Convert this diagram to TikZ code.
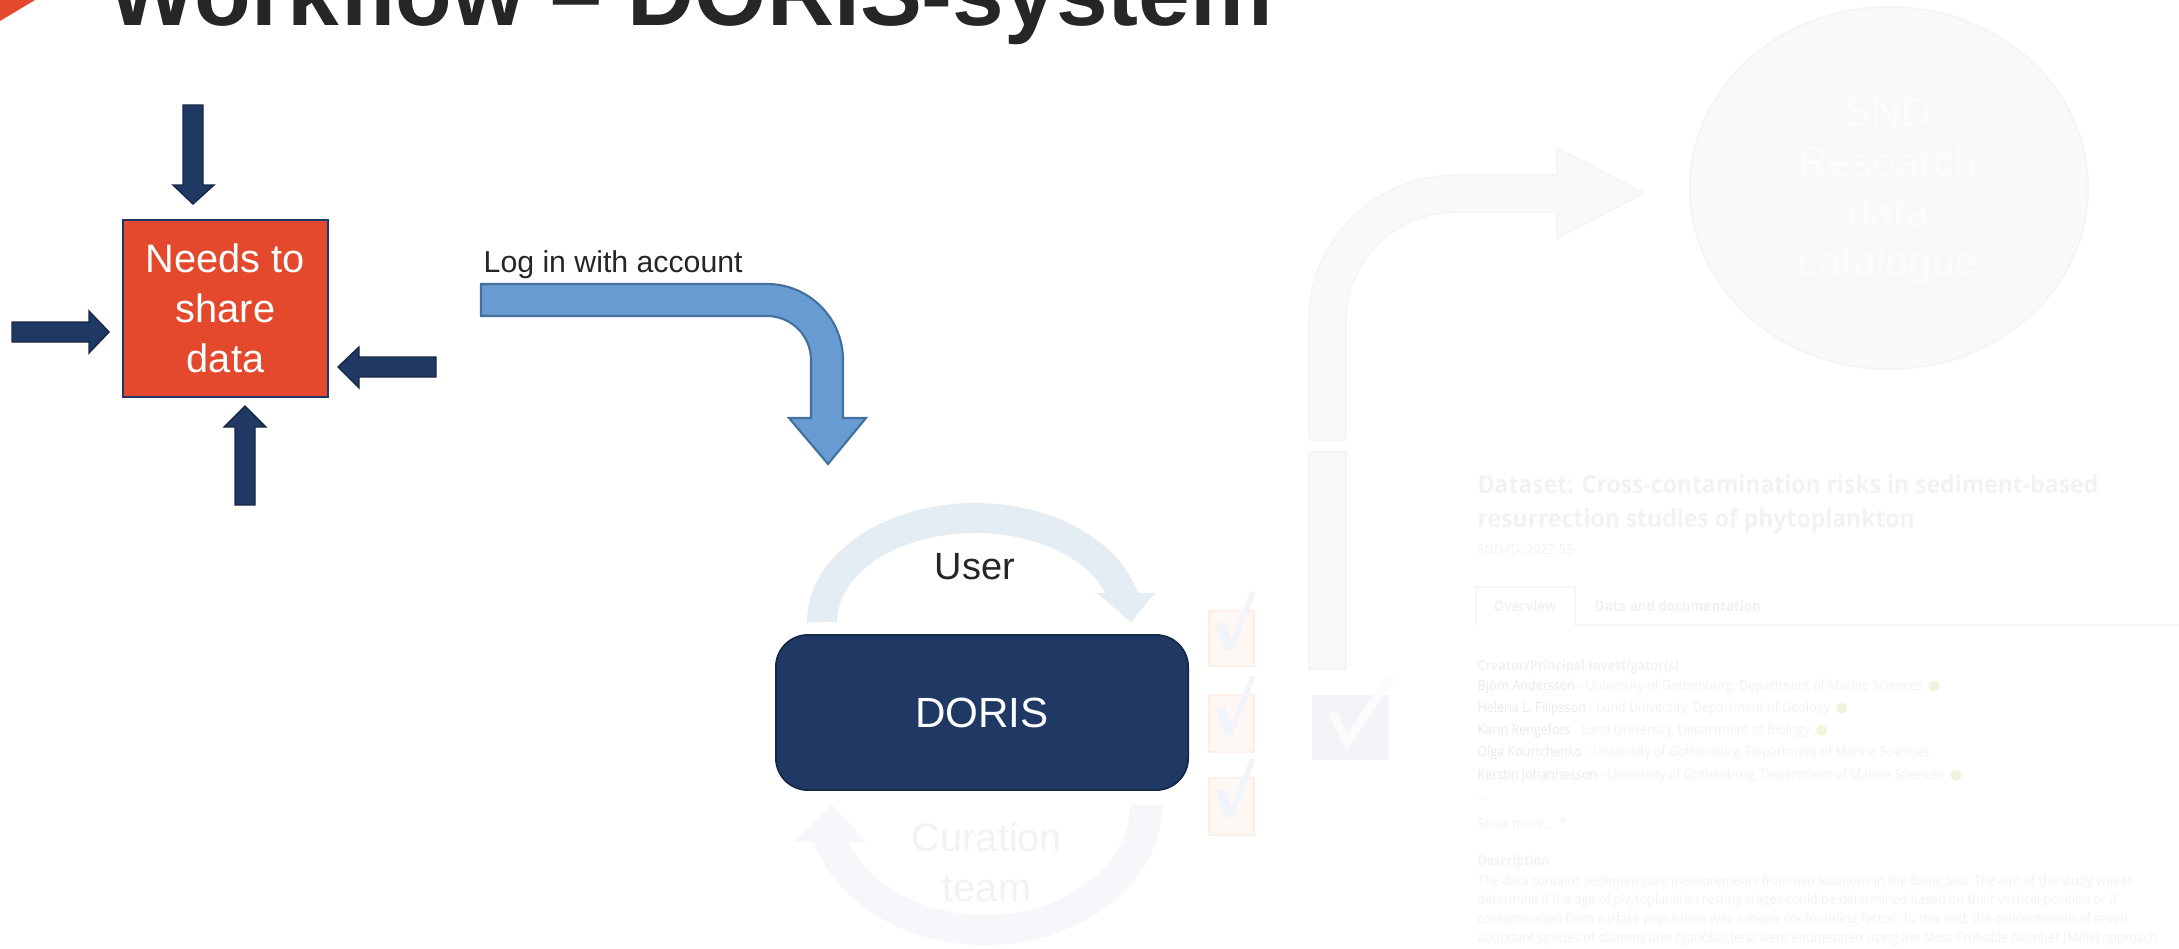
\documentclass[tikz,border=0pt]{standalone}
\usepackage{fontspec}
\setmainfont{Liberation Sans}
\newfontfamily\web{Open Sans}[FakeStretch=0.9]
\newfontfamily\webhead{Open Sans}[FakeStretch=0.92]
\usetikzlibrary{shapes.geometric}
\definecolor{navy}{RGB}{31,56,100}
\definecolor{navyd}{RGB}{22,40,72}
\definecolor{redbox}{RGB}{228,73,45}
\definecolor{blueA}{RGB}{104,155,209}
\definecolor{blueAd}{RGB}{65,113,156}
\definecolor{ink}{RGB}{38,38,38}
\definecolor{arcA}{RGB}{228,236,244}
\definecolor{arcB}{RGB}{245,247,250}
\definecolor{curtext}{RGB}{240,243,246}
\definecolor{ghost}{RGB}{248,249,251}
\definecolor{ghostline}{RGB}{243,244,247}
\definecolor{ghosttext}{RGB}{252,252,253}
\definecolor{chkfill}{RGB}{254,248,245}
\definecolor{chkline}{RGB}{252,239,232}
\definecolor{chkmark}{RGB}{241,244,248}
\definecolor{bigchk}{RGB}{242,244,247}
\definecolor{bigmark}{RGB}{250,251,252}
\definecolor{webtitle}{RGB}{242,242,242}
\definecolor{webtxt}{RGB}{242,242,242}
\definecolor{webname}{RGB}{234,234,234}
\definecolor{webline}{RGB}{246,246,246}
\definecolor{orcid}{RGB}{240,244,220}
\tikzset{
  navyarrow/.style={fill=navy, draw=navyd, line width=0.4pt},
  needsbox/.style={draw=navy, line width=0.6pt, fill=redbox, minimum width=2.05cm,
    minimum height=1.77cm, inner sep=0pt, align=center, text=white,
    font=\fontsize{11.3}{14.2}\selectfont},
  dorisbox/.style={draw=navyd, line width=0.5pt, fill=navy, rounded corners=0.32cm,
    minimum width=4.12cm, minimum height=1.55cm, inner sep=0pt, text=white,
    font=\fontsize{12}{14}\selectfont},
  web/.style={anchor=base west, inner sep=0pt, text=webtxt,
    font=\web\fontsize{3.95}{4.7}\selectfont},
  webb/.style={anchor=base west, inner sep=0pt, text=webtxt,
    font=\web\bfseries\fontsize{3.95}{4.7}\selectfont},
  webt/.style={anchor=base west, inner sep=0pt, text=webtitle,
    font=\webhead\bfseries\fontsize{7.1}{8.5}\selectfont},
  orcidicon/.style={circle, fill=orcid, minimum size=0.11cm, inner sep=0pt, anchor=west},
  chk/.style={draw=chkline, fill=chkfill, line width=0.5pt},
}
\begin{document}
\begin{tikzpicture}[x=0.01cm,y=-0.01cm]
\useasboundingbox (0,0) rectangle (2179,948);
\clip (0,0) rectangle (2179,948);
\fill[white] (0,0) rectangle (2179,948);

% title
\fill[redbox] (0,0) -- (35,0) -- (0,21) -- cycle;
\node[anchor=base west, inner sep=0pt, text=ink, font=\bfseries\fontsize{26.4}{30}\selectfont]
  (title) at (108,25) {Workflow – DORIS-system};

% needs to share data
\node[needsbox] (needs) at (225.5,308.5) {Needs to\\share\\data};
\path[navyarrow] (183,105) -- (203,105) -- (203,185) -- (214,185) -- (193,204) -- (173,185) -- (183,185) -- cycle;
\path[navyarrow] (12,322) -- (89,322) -- (89,311) -- (109,332) -- (89,353) -- (89,342) -- (12,342) -- cycle;
\path[navyarrow] (436,357) -- (359,357) -- (359,347) -- (338,367) -- (359,388) -- (359,377) -- (436,377) -- cycle;
\path[navyarrow] (235,505) -- (235,427) -- (224,427) -- (245,406) -- (266,427) -- (255,427) -- (255,505) -- cycle;

% log in arrow
\node[anchor=base west, inner sep=0pt, text=ink, font=\fontsize{8.6}{10}\selectfont]
  (login) at (483,272) {Log in with account};
\path[fill=blueA, draw=blueAd, line width=0.6pt]
  (481,284) -- (767,284) arc[start angle=270, end angle=360, radius=76]
  -- (843,418) -- (866,418) -- (828,464) -- (789,418) -- (811,418) -- (811,360)
  arc[start angle=0, end angle=-90, radius=44] -- (481,316) -- cycle;

% circular arrows
\path[fill=arcA]
  (807,622) arc[start angle=180, end angle=346, x radius=168, y radius=119]
  -- (1155,593) -- (1131,622) -- (1097,593) -- (1105.5,593)
  arc[start angle=341, end angle=180, x radius=138, y radius=89] -- cycle;
\path[fill=arcB]
  (1162,805) arc[start angle=0, end angle=164.7, x radius=177, y radius=140]
  -- (793,842) -- (832,805) -- (866,842) -- (848.4,842)
  arc[start angle=160.4, end angle=0, x radius=145, y radius=110] -- cycle;
\node[anchor=base, inner sep=0pt, text=ink, font=\fontsize{10.8}{13}\selectfont] (user) at (975,579) {User};
\node[dorisbox] (doris) at (982,712.5) {DORIS};
\node[inner sep=0pt, align=center, text=curtext, font=\fontsize{11.3}{14.2}\selectfont]
  (curation) at (987,862) {Curation\\team};

% small checkboxes
\path[chk] (1209,611) rectangle (1254,666);
\path[chk] (1209,695) rectangle (1254,752);
\path[chk] (1209,778) rectangle (1254,835);
\foreach \dy in {0,84,167}{
  \draw[chkmark, line width=2.8pt] (1220,623+\dy) -- (1230,650+\dy);
  \draw[chkmark, line width=1.6pt] (1230,650+\dy) -- (1253,592+\dy);
}

% bent-up arrow and big checkbox
\path[fill=ghost, draw=ghostline, line width=0.4pt]
  (1309,440) -- (1309,320) arc[start angle=180, end angle=270, x radius=148, y radius=145]
  -- (1557,175) -- (1557,148) -- (1644,193) -- (1557,238) -- (1557,212) -- (1457,212)
  arc[start angle=270, end angle=180, x radius=111, y radius=108] -- (1346,440) -- cycle;
\path[fill=ghost, draw=ghostline, line width=0.4pt] (1309,452) rectangle (1346,669);
\path[fill=bigchk] (1312,695) rectangle (1389,760);
\draw[bigmark, line width=2.5pt] (1332,712) -- (1347,743) -- (1391,677);

% catalogue ellipse
\node[ellipse, fill=ghost, draw=ghostline, line width=0.5pt, minimum width=3.98cm,
  minimum height=3.62cm, inner sep=0pt] (cat) at (1889,188) {};
\node[inner sep=0pt, align=center, text=ghosttext, font=\fontsize{11.9}{14.2}\selectfont]
  (cattext) at (1888,191.5) {SND\\Research\\data\\catalogue};

% web page
\node[webt] (wt1) at (1477,493) {Dataset: Cross-contamination risks in sediment-based};
\node[webt] (wt2) at (1477,527) {resurrection studies of phytoplankton};
\node[web] (wid) at (1477,554) {SND-ID: 2022-55};
\draw[webline, line width=0.4pt] (1476,625) -- (1476,587) -- (1575,587) -- (1575,625) -- (2179,625);
\node[webb, anchor=base, font=\web\bfseries\fontsize{4.2}{5}\selectfont] (tab1) at (1525,611) {Overview};
\node[webb, font=\web\bfseries\fontsize{4.2}{5}\selectfont] (tab2) at (1594,611) {Data and documentation};
\node[webb] (creator) at (1477,670) {Creator/Principal Investigator(s)};
\node[web] (n1) at (1477,690) {\textcolor{webname}{Björn Andersson} - University of Gothenburg, Department of Marine Sciences};
\node[orcidicon] (o1) at ([xshift=0.05cm]n1.east) {};
\node[web] (n2) at (1477,712) {\textcolor{webname}{Helena L. Filipsson} - Lund University, Department of Geology};
\node[orcidicon] (o2) at ([xshift=0.05cm]n2.east) {};
\node[web] (n3) at (1477,734) {\textcolor{webname}{Karin Rengefors} - Lund University, Department of Biology};
\node[orcidicon] (o3) at ([xshift=0.05cm]n3.east) {};
\node[web] (n4) at (1477,756) {\textcolor{webname}{Olga Kourtchenko} - University of Gothenburg, Department of Marine Sciences};
\node[web] (n5) at (1477,779) {\textcolor{webname}{Kerstin Johannesson} - University of Gothenburg, Department of Marine Sciences};
\node[orcidicon] (o5) at ([xshift=0.05cm]n5.east) {};
\node[web] (dots) at (1477,800) {...};
\node[web] (more) at (1477,828) {Show more...};
\draw[webtxt, line width=0.5pt] ([xshift=0.06cm,yshift=0.04cm]more.east) -- ++(3,3) -- ++(3,-3);
\node[webb] (desc) at (1477,865) {Description};
\node[web] (d1) at (1477,885) {The data contains sediment core measurements from two locations in the Baltic Sea. The aim of the study was to};
\node[web] (d2) at (1477,904) {determine if the age of phytoplankton resting stages could be determined based on their vertical position or if};
\node[web] (d3) at (1477,923) {contamination from surface population was a major confounding factor. To this end, the concentration of seven};
\node[web] (d4) at (1477,942) {abundant species of diatoms and cyanobacteria were enumerated using the Most Probable Number (MPN) approach.};
\end{tikzpicture}
\end{document}
